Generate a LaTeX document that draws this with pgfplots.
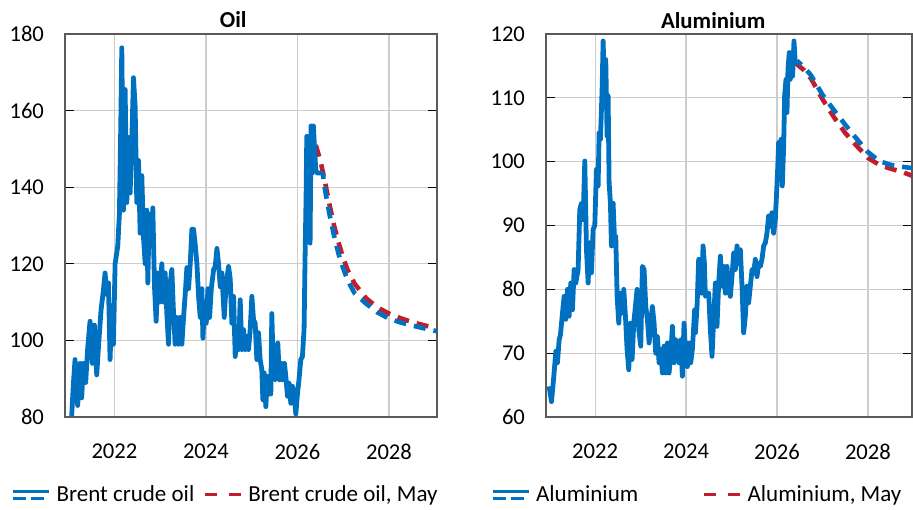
\documentclass[border=0pt]{standalone}
\usepackage{fontspec}
\setmainfont{Carlito}
\usepackage{pgfplots}
\pgfplotsset{compat=1.18}
\definecolor{cblue}{RGB}{0,112,192}
\definecolor{cred}{RGB}{192,30,46}
\definecolor{cgrid}{RGB}{205,205,205}
\definecolor{caxis}{RGB}{90,90,90}
\pgfplotsset{
  panel/.style={
    scale only axis, height=191.5pt,
    xmin=2020.92,
    axis line style={caxis, line width=0.6pt},
    xtick={2022,2024,2026,2028},
    grid=major, grid style={cgrid, line width=0.6pt},
    tick align=inside, ytick pos=both,
    major tick length=4.5pt,
    y tick style={black, line width=0.6pt},
    x tick style={draw=none},
    xticklabel style={yshift=-10pt},
    yticklabel style={xshift=-7pt},
    tick label style={font=\fontsize{11.3}{13}\selectfont},
    /pgf/number format/assume math mode=true,
    /pgf/number format/1000 sep={},
    title style={font=\fontsize{11.4}{13}\selectfont\bfseries, anchor=base, yshift=-3pt},
    legend columns=2,
    legend style={draw=none, fill=none, inner sep=0pt, outer sep=0pt,
      font=\fontsize{11.5}{13}\selectfont, anchor=west,
      nodes={inner sep=0pt},
      /tikz/every odd column/.append style={column sep=3pt}},
    hist/.style={cblue, line width=2.4pt, line join=round},
    fblue/.style={cblue, line width=2.3pt, dash pattern=on 6pt off 4pt, dash phase=3pt},
    fred/.style={cred, line width=2.3pt, dash pattern=on 6pt off 4pt},
  }
}
\begin{document}
\begin{tikzpicture}
\useasboundingbox (0,0) rectangle (456.5pt,254.5pt);
%% ---------------- Oil ----------------
\begin{axis}[panel, at={(32.5pt,46pt)}, anchor=south west,
  width=186pt, xmax=2029.05, ymin=80, ymax=180, ytick={80,100,...,180},
  title={Oil}, title style={at={(0.452,1)}},
  legend style={at={(-0.1435,-0.203)},
    /tikz/every even column/.append style={column sep=4.3pt}}]
\addlegendimage{legend image code/.code={
  \draw[cblue, line width=1.2pt] (0pt,1.7pt) -- (18pt,1.7pt);
  \draw[cblue, line width=1.5pt, dash pattern=on 6.5pt off 2.5pt] (0pt,-1.7pt) -- (18pt,-1.7pt);}}
\addlegendentry{Brent crude oil}
\addlegendimage{legend image code/.code={
  \draw[cred, line width=1.7pt, dash pattern=on 6pt off 6pt] (0pt,0pt) -- (18pt,0pt);}}
\addlegendentry{Brent crude oil, May}
% May forecast
\addplot[fred, forget plot] coordinates {
(2026.40,151) (2026.50,147) (2026.60,141.5) (2026.70,135.5) (2026.80,130)
(2026.90,125.5) (2027.00,121.5) (2027.10,118.3) (2027.25,114.8) (2027.50,111)
(2027.75,108.6) (2028.00,107) (2028.25,105.8) (2028.50,104.8) (2028.75,104) (2029.05,103.1)};
% current forecast
\addplot[fblue, forget plot] coordinates {
(2026.553,143.7) (2026.60,139.5) (2026.70,133) (2026.80,127.3) (2026.90,122.5)
(2027.00,118.8) (2027.10,115.6) (2027.25,112.3) (2027.50,109.6) (2027.75,107.3)
(2028.00,105.7) (2028.25,104.7) (2028.50,103.9) (2028.75,103.2) (2029.05,102.4)};
% history
\addplot[hist, forget plot] coordinates {
(2021.066,80.3) (2021.102,88.4) (2021.139,95) (2021.197,83) (2021.248,94)
(2021.285,85) (2021.321,94) (2021.372,89) (2021.416,98) (2021.467,105)
(2021.518,94) (2021.562,104) (2021.613,91) (2021.650,98) (2021.708,108)
(2021.759,113) (2021.796,117.6) (2021.832,112) (2021.869,115) (2021.905,95)
(2021.942,109) (2021.978,99) (2022.015,120) (2022.073,124.6) (2022.109,133)
(2022.139,156) (2022.161,176.4) (2022.197,134) (2022.234,165.5) (2022.270,136)
(2022.307,153) (2022.343,138.5) (2022.380,152) (2022.416,168.6) (2022.453,161)
(2022.489,136) (2022.526,147) (2022.562,128) (2022.599,143) (2022.635,127)
(2022.672,120) (2022.708,134) (2022.730,115) (2022.759,133) (2022.803,124.6)
(2022.839,134.6) (2022.876,114) (2022.912,105) (2022.949,117.6) (2022.985,110)
(2023.036,120) (2023.073,110) (2023.109,117.6) (2023.146,107) (2023.182,99)
(2023.219,115) (2023.255,118.5) (2023.292,107) (2023.328,99) (2023.365,106)
(2023.401,99) (2023.438,106) (2023.474,99) (2023.511,106) (2023.547,112)
(2023.584,119) (2023.620,113.5) (2023.657,120) (2023.693,129) (2023.730,129)
(2023.766,125) (2023.803,120) (2023.839,111.5) (2023.876,106) (2023.912,113.5)
(2023.934,100.6) (2023.971,110) (2024.007,104.5) (2024.044,113.5) (2024.080,106)
(2024.117,113.5) (2024.168,118.5) (2024.204,119.3) (2024.240,124) (2024.276,120)
(2024.313,114) (2024.349,117.6) (2024.400,106) (2024.444,115) (2024.495,119.3)
(2024.531,116) (2024.567,104.5) (2024.604,111.5) (2024.640,95.8) (2024.676,102.8)
(2024.713,97.6) (2024.749,110.6) (2024.785,97.6) (2024.822,102.8) (2024.858,97.6)
(2024.895,101) (2024.931,97.6) (2024.967,102.8) (2025.004,111.5) (2025.040,105.4)
(2025.076,104.5) (2025.113,95) (2025.149,102) (2025.185,95) (2025.222,92.3)
(2025.244,84.5) (2025.273,91.5) (2025.309,82.7) (2025.345,90.6) (2025.382,86)
(2025.418,86) (2025.440,107) (2025.476,90.6) (2025.513,89.7) (2025.549,94)
(2025.571,99.3) (2025.607,89.7) (2025.644,94) (2025.680,89.7) (2025.716,94)
(2025.753,89.7) (2025.782,85.4) (2025.818,88.8) (2025.855,83.6) (2025.891,88)
(2025.927,86.2) (2025.964,80.8) (2026.000,86) (2026.036,90) (2026.073,95)
(2026.109,95.8) (2026.145,103) (2026.167,122) (2026.189,137.6) (2026.204,153.3)
(2026.225,129) (2026.247,144.6) (2026.276,125.4) (2026.298,156) (2026.320,143.7)
(2026.349,156) (2026.371,150.7) (2026.400,144.6) (2026.422,143.7) (2026.553,143.7)};
\end{axis}
%% ---------------- Aluminium ----------------
\begin{axis}[panel, at={(273pt,46pt)}, anchor=south west,
  width=183pt, xmax=2028.97, ymin=60, ymax=120, ytick={60,70,...,120},
  title={Aluminium}, title style={at={(0.457,1)}},
  legend style={at={(-0.150,-0.203)},
    /tikz/every even column/.append style={column sep=32pt}}]
\addlegendimage{legend image code/.code={
  \draw[cblue, line width=1.2pt] (0pt,1.7pt) -- (18pt,1.7pt);
  \draw[cblue, line width=1.5pt, dash pattern=on 6.5pt off 2.5pt] (0pt,-1.7pt) -- (18pt,-1.7pt);}}
\addlegendentry{Aluminium}
\addlegendimage{legend image code/.code={
  \draw[cred, line width=1.7pt, dash pattern=on 6pt off 6pt] (0pt,0pt) -- (18pt,0pt);}}
\addlegendentry{Aluminium, May}
\addplot[fred, forget plot] coordinates {
(2026.40,115.5) (2026.60,114.3) (2026.75,113) (2027.00,109.8) (2027.25,107)
(2027.50,104.5) (2027.75,102.5) (2028.00,100.6) (2028.25,99.5) (2028.50,98.9)
(2028.75,98.4) (2028.97,97.8)};
\addplot[fblue, forget plot] coordinates {
(2026.44,115.8) (2026.60,114.8) (2026.75,113.5) (2027.00,110.5) (2027.25,108.1)
(2027.50,105.8) (2027.75,103.6) (2028.00,101.5) (2028.25,100.1) (2028.50,99.5)
(2028.75,99.2) (2028.97,99.0)};
\addplot[hist, forget plot] coordinates {
(2020.989,64.8) (2021.040,62.4) (2021.092,66.4) (2021.136,70.3) (2021.172,68.5)
(2021.209,72.1) (2021.238,72.9) (2021.282,76.3) (2021.319,78.9) (2021.355,75.3)
(2021.392,80) (2021.429,75.8) (2021.465,81) (2021.502,76.8) (2021.538,83.1)
(2021.575,81) (2021.626,83.1) (2021.663,92.5) (2021.700,93.5) (2021.736,90.9)
(2021.773,100.1) (2021.810,86.2) (2021.846,81) (2021.883,87.3) (2021.919,82.6)
(2021.956,89.4) (2021.993,90) (2022.029,98.8) (2022.066,96.2) (2022.088,104.5)
(2022.117,103.5) (2022.154,111.3) (2022.176,118.9) (2022.212,110.3) (2022.234,116)
(2022.264,104) (2022.286,110.3) (2022.308,96.7) (2022.337,93.5) (2022.359,86.8)
(2022.396,93.5) (2022.432,86.8) (2022.454,88.3) (2022.484,78.9) (2022.520,74.7)
(2022.557,79.4) (2022.593,76.3) (2022.630,80) (2022.667,75.8) (2022.703,70.6)
(2022.740,67.4) (2022.777,74.7) (2022.813,69) (2022.850,74.7) (2022.886,77.3)
(2022.923,80) (2022.960,73.7) (2023.004,71.1) (2023.040,83.6) (2023.077,83.1)
(2023.114,77.3) (2023.150,75.3) (2023.187,71.6) (2023.223,74.7) (2023.260,77.3)
(2023.297,74.7) (2023.333,70) (2023.370,72.6) (2023.407,68.5) (2023.443,70.6)
(2023.480,66.9) (2023.516,71.1) (2023.553,66.9) (2023.590,71.6) (2023.626,66.9)
(2023.663,69.5) (2023.700,74.2) (2023.736,68.5) (2023.773,72.1) (2023.810,70)
(2023.846,68.5) (2023.883,72.1) (2023.919,66.4) (2023.956,74.7) (2023.993,69.5)
(2024.029,67.9) (2024.066,71.6) (2024.103,68.5) (2024.139,70.6) (2024.190,76.8)
(2024.205,73.2) (2024.242,77.3) (2024.278,84.7) (2024.315,83.1) (2024.337,79.4)
(2024.374,86.8) (2024.403,84.1) (2024.425,78.9) (2024.462,79.4) (2024.498,79.4)
(2024.535,73.7) (2024.571,69.5) (2024.608,75.3) (2024.645,81) (2024.681,74.2)
(2024.718,81) (2024.755,85.2) (2024.791,80.5) (2024.828,83.6) (2024.864,79.4)
(2024.901,83.6) (2024.938,80) (2024.974,78.9) (2025.011,82) (2025.048,85.7)
(2025.084,83.1) (2025.121,86.8) (2025.158,84.1) (2025.194,86.2) (2025.231,80.5)
(2025.267,73.2) (2025.304,75.8) (2025.341,80.5) (2025.377,77.9) (2025.414,80.5)
(2025.451,83.1) (2025.487,82.6) (2025.524,84.7) (2025.560,82) (2025.597,84.1)
(2025.634,83.6) (2025.670,84.7) (2025.707,86.8) (2025.744,87.3) (2025.780,88.8)
(2025.817,91.5) (2025.853,89.9) (2025.890,92) (2025.927,88.8) (2025.963,90.9)
(2025.985,94.1) (2026.015,98.8) (2026.037,103) (2026.059,97.7) (2026.088,103.5)
(2026.117,96.2) (2026.147,102.4) (2026.168,110.3) (2026.198,112.9) (2026.220,107.7)
(2026.242,114.5) (2026.271,117.1) (2026.293,112.9) (2026.315,116) (2026.344,113.4)
(2026.374,118.9) (2026.403,115.5) (2026.440,115.8)};
\end{axis}
\end{tikzpicture}
\end{document}
